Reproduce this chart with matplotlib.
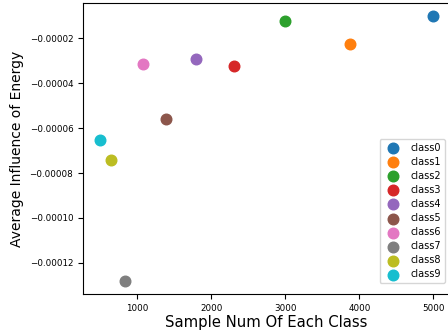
import numpy as np
import matplotlib
matplotlib.use('Agg')
import matplotlib.pyplot as plt

classes = ['class0', 'class1', 'class2', 'class3', 'class4',
           'class5', 'class6', 'class7', 'class8', 'class9']
sample_num = [5000, 3869, 2992, 2313, 1787, 1382, 1072, 829, 649, 491]
influence = [-0.0000101, -0.0000224, -0.0000122, -0.0000325, -0.0000292,
             -0.0000561, -0.0000314, -0.000128, -0.0000742, -0.0000652]

fig = plt.figure(figsize=(4.48, 3.3), dpi=100)
ax = fig.add_axes([83 / 448, 36 / 330, 367 / 448, 291 / 330])

for i in range(len(classes)):
    ax.scatter(sample_num[i], influence[i], s=58, label=classes[i])

ax.set_xlabel('Sample Num Of Each Class', fontsize=10.7, labelpad=1.5)
ax.set_ylabel('Average Influence of Energy', fontsize=10)
ax.tick_params(labelsize=6.3)
ax.legend(loc='lower right', fontsize=7, labelspacing=0.42,
          bbox_to_anchor=(1.0, 0.02))

fig.savefig('out.png', dpi=100)
